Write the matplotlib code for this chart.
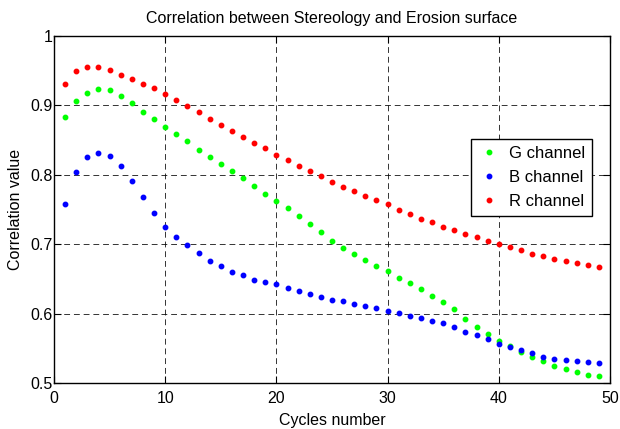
import matplotlib
matplotlib.use("Agg")
import matplotlib.pyplot as plt
from matplotlib.ticker import FormatStrFormatter

plt.rcParams['font.family'] = ['Liberation Sans', 'DejaVu Sans']
fs = 11.5

cycles = list(range(1, 50))

g_channel = [0.883, 0.907, 0.918, 0.923, 0.922, 0.914, 0.903, 0.891, 0.881, 0.869,
             0.859, 0.848, 0.836, 0.826, 0.815, 0.805, 0.795, 0.784, 0.772, 0.762,
             0.752, 0.740, 0.729, 0.718, 0.705, 0.695, 0.686, 0.677, 0.669, 0.661,
             0.652, 0.644, 0.635, 0.626, 0.617, 0.606, 0.592, 0.581, 0.570, 0.560,
             0.553, 0.544, 0.538, 0.531, 0.525, 0.520, 0.516, 0.511, 0.510]

b_channel = [0.758, 0.804, 0.825, 0.831, 0.827, 0.813, 0.791, 0.768, 0.745, 0.725,
             0.711, 0.699, 0.687, 0.676, 0.668, 0.660, 0.655, 0.649, 0.646, 0.642,
             0.637, 0.633, 0.628, 0.624, 0.620, 0.618, 0.614, 0.611, 0.608, 0.604,
             0.601, 0.597, 0.593, 0.589, 0.586, 0.581, 0.574, 0.569, 0.563, 0.556,
             0.552, 0.548, 0.543, 0.538, 0.535, 0.533, 0.532, 0.530, 0.529]

r_channel = [0.931, 0.949, 0.956, 0.956, 0.951, 0.944, 0.938, 0.931, 0.925, 0.917,
             0.908, 0.899, 0.890, 0.881, 0.872, 0.863, 0.854, 0.846, 0.838, 0.829,
             0.821, 0.813, 0.805, 0.798, 0.789, 0.783, 0.777, 0.770, 0.764, 0.758,
             0.750, 0.744, 0.737, 0.732, 0.725, 0.720, 0.715, 0.711, 0.705, 0.701,
             0.696, 0.691, 0.686, 0.683, 0.679, 0.676, 0.673, 0.670, 0.667]

series_labels = ['G channel', 'B channel', 'R channel']
x_ticks = [0, 10, 20, 30, 40, 50]
y_ticks = [0.5, 0.6, 0.7, 0.8, 0.9, 1.0]

fig = plt.figure(figsize=(6.2, 4.29), dpi=100)
ax = fig.add_axes([54/620, 1-383/429, 556/620, 347/429])

ax.plot(cycles, g_channel, linestyle='none', marker='o', markersize=3.2,
        color='#00ff00', label=series_labels[0])
ax.plot(cycles, b_channel, linestyle='none', marker='o', markersize=3.2,
        color='#0000ff', label=series_labels[1])
ax.plot(cycles, r_channel, linestyle='none', marker='o', markersize=3.2,
        color='#ff0000', label=series_labels[2])

ax.set_xlim(0, 50)
ax.set_ylim(0.5, 1.0)
ax.set_xticks(x_ticks)
ax.set_yticks(y_ticks)
ax.yaxis.set_major_formatter(FormatStrFormatter('%g'))
ax.tick_params(direction='in', top=True, right=True, labelsize=fs, length=5,
               width=0.8)
ax.tick_params(axis='x', pad=6)
ax.tick_params(axis='y', pad=1)
ax.grid(True, color='black', linestyle=(0, (6, 4)), linewidth=0.7, alpha=0.8)
for s in ax.spines.values():
    s.set_linewidth(1.0)

ax.set_title('Correlation between Stereology and Erosion surface', fontsize=fs, pad=9)
ax.set_xlabel('Cycles number', fontsize=fs, labelpad=5)
ax.set_ylabel('Correlation value', fontsize=fs, labelpad=5)

leg = ax.legend(loc='upper right', bbox_to_anchor=(0.968, 0.703), fontsize=12,
                frameon=True, fancybox=False, edgecolor='black', framealpha=1,
                handlelength=1.4, handletextpad=0.5, borderpad=0.4, labelspacing=0.55,
                markerscale=1.0, borderaxespad=0)
leg.get_frame().set_linewidth(1.0)

fig.savefig('out.png', dpi=100)
